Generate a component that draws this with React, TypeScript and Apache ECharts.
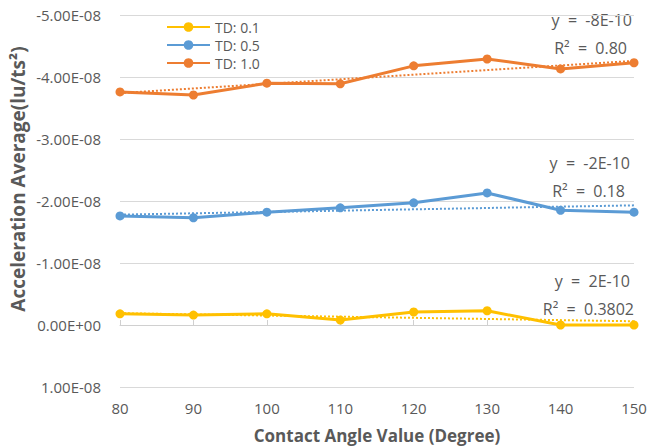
import React, { useEffect, useRef } from "react";
import * as echarts from "echarts";

const angles = [80, 90, 100, 110, 120, 130, 140, 150];
const td01 = [-0.18e-8, -0.16e-8, -0.18e-8, -0.08e-8, -0.21e-8, -0.23e-8, 0.0, 0.0];
const td05 = [-1.76e-8, -1.73e-8, -1.82e-8, -1.89e-8, -1.97e-8, -2.13e-8, -1.85e-8, -1.82e-8];
const td10 = [-3.76e-8, -3.71e-8, -3.9e-8, -3.89e-8, -4.18e-8, -4.29e-8, -4.13e-8, -4.23e-8];
// trendline end values (at 80 and 150)
const trend01 = [-0.19e-8, -0.06e-8];
const trend05 = [-1.78e-8, -1.93e-8];
const trend10 = [-3.74e-8, -4.26e-8];
const trendX = [80, 150];
const seriesNames = ["TD: 0.1", "TD: 0.5", "TD: 1.0"];
const colors = ["#FFC000", "#5B9BD5", "#ED7D31"];
const eqLabels = [
  ["y  =  2E-10", "R²  =  0.3802"],
  ["y  =  -2E-10", "R²  =  0.18"],
  ["y  =  -8E-10", "R²  =  0.80"],
];
const xAxisTitle = "Contact Angle Value (Degree)";
const yAxisTitle = "Acceleration Average(lu/ts²)";

const FONT = "'Open Sans', 'Noto Sans', sans-serif";
const TEXT = "#595959";

function fmt(v: number): string {
  const s = v.toExponential(2);
  const m = s.match(/^(-?[\d.]+)e([+-])(\d+)$/);
  if (!m) return s;
  return `${m[1]}E${m[2]}${m[3].padStart(2, "0")}`;
}

export default function App() {
  const ref = useRef<HTMLDivElement>(null);
  useEffect(() => {
    if (!ref.current) return;
    const chart = echarts.init(ref.current, undefined, { renderer: "svg" });
    const mainData = [td01, td05, td10];
    const trends = [trend01, trend05, trend10];
    const series: any[] = [];
    mainData.forEach((d, i) => {
      series.push({
        name: seriesNames[i],
        type: "line",
        data: angles.map((a, j) => [a, d[j]]),
        symbol: "circle",
        symbolSize: 9,
        lineStyle: { color: colors[i], width: 3 },
        itemStyle: { color: colors[i] },
        z: 3,
      });
    });
    trends.forEach((t, i) => {
      series.push({
        name: seriesNames[i] + " trend",
        type: "line",
        data: trendX.map((x, j) => [x, t[j]]),
        symbol: "none",
        lineStyle: { color: colors[i], width: 2, type: [2, 2] },
        z: 2,
      });
    });
    const eqY = [
      [281, 309],
      [163, 191],
      [20, 48],
    ];
    const eqRight = [
      [630, 634],
      [630, 625],
      [632, 627],
    ];
    const graphic: any[] = [];
    eqLabels.forEach((pair, i) => {
      pair.forEach((txt, k) => {
        graphic.push({
          type: "text",
          x: eqRight[i][k],
          y: eqY[i][k],
          style: {
            text: txt,
            fill: TEXT,
            font: `16px ${FONT}`,
            textAlign: "right",
            textVerticalAlign: "middle",
          },
        });
      });
    });
    graphic.push({
      type: "text",
      x: 18,
      y: 179,
      rotation: Math.PI / 2,
      style: {
        text: yAxisTitle,
        fill: TEXT,
        font: `bold 19px ${FONT}`,
        textAlign: "center",
        textVerticalAlign: "middle",
      },
    });
    chart.setOption({
      animation: false,
      backgroundColor: "#ffffff",
      textStyle: { fontFamily: FONT },
      grid: { left: 120, right: 16, top: 15, bottom: 61, outerBoundsMode: "none", containLabel: false },
      legend: {
        data: seriesNames,
        orient: "vertical",
        left: 161,
        top: 14,
        itemWidth: 43,
        itemHeight: 12,
        itemGap: 2,
        textStyle: { color: TEXT, fontSize: 14, lineHeight: 16, fontFamily: FONT },
      },
      xAxis: {
        type: "value",
        min: 80,
        max: 150,
        interval: 10,
        name: xAxisTitle,
        nameLocation: "middle",
        nameGap: 40,
        nameTextStyle: { color: TEXT, fontSize: 17, fontWeight: "bold", fontFamily: FONT },
        axisLine: { show: true, lineStyle: { color: "#D0D0D0", width: 1 } },
        axisTick: { show: true, inside: true, length: 5, lineStyle: { color: "#D0D0D0" } },
        axisLabel: { color: TEXT, fontSize: 15, margin: 13 },
        splitLine: { show: false },
      },
      yAxis: {
        type: "value",
        inverse: true,
        min: -5e-8,
        max: 1e-8,
        interval: 1e-8,
        axisLine: { show: false },
        axisTick: { show: false },
        axisLabel: { color: TEXT, fontSize: 15, margin: 19, formatter: (v: number) => fmt(v) },
        splitLine: { show: true, lineStyle: { color: "#D9D9D9", width: 1 } },
      },
      series,
      graphic,
    });
    return () => chart.dispose();
  }, []);
  return (
    <div
      ref={ref}
      style={{ position: "absolute", left: 0, top: 0, width: 650, height: 448 }}
    />
  );
}
